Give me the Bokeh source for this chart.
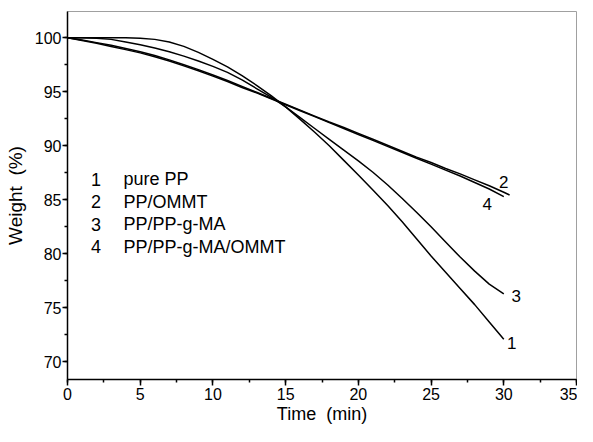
from bokeh.plotting import figure
from bokeh.models import SingleIntervalTicker, Range1d, ColumnDataSource
from bokeh.core.properties import value
from bokeh.embed import file_html
from bokeh.resources import INLINE

# ---- data ----
t_main = list(range(0, 31))

w_pure_pp = [100.0, 100.0, 100.0, 100.0, 100.0, 99.95, 99.85, 99.6, 99.2, 98.65,
             98.0, 97.3, 96.5, 95.6, 94.65, 93.6, 92.45, 91.25, 90.0, 88.65,
             87.3, 85.9, 84.5, 83.0, 81.4, 79.8, 78.3, 76.8, 75.3, 73.7, 72.1]

w_pp_ommt_t = list(range(0, 31)) + [30.4]
w_pp_ommt = [100.0, 99.8, 99.55, 99.3, 99.0, 98.7, 98.35, 97.95, 97.5, 97.05,
             96.55, 96.05, 95.5, 94.95, 94.4, 93.85, 93.3, 92.75, 92.2, 91.7,
             91.15, 90.6, 90.05, 89.5, 88.95, 88.45, 87.9, 87.4, 86.85, 86.3,
             85.7, 85.45]

w_pp_ppgma = [100.0, 100.0, 99.95, 99.85, 99.6, 99.35, 99.05, 98.7, 98.3, 97.85,
              97.35, 96.8, 96.1, 95.3, 94.5, 93.6, 92.6, 91.6, 90.6, 89.6,
              88.6, 87.55, 86.4, 85.15, 83.85, 82.5, 81.1, 79.7, 78.4, 77.2, 76.3]

w_pp_ppgma_ommt = [100.0, 99.75, 99.5, 99.2, 98.9, 98.6, 98.25, 97.85, 97.4, 96.95,
                   96.45, 95.95, 95.4, 94.9, 94.35, 93.8, 93.25, 92.7, 92.15, 91.6,
                   91.05, 90.5, 89.95, 89.4, 88.85, 88.3, 87.75, 87.2, 86.6, 86.0,
                   85.3]

legend_numbers = ["1", "2", "3", "4"]
legend_names = ["pure PP", "PP/OMMT", "PP/PP-g-MA", "PP/PP-g-MA/OMMT"]

x_label = "Time \u00a0(min)"
y_label = "Weight \u00a0(%)"

FONT = "Liberation Sans"

p = figure(width=577, height=426, output_backend="svg", toolbar_location=None,
           x_range=Range1d(0, 35), y_range=Range1d(68.37, 102.43),
           min_border_left=67, min_border_right=1, min_border_top=11,
           min_border_bottom=46)

p.background_fill_color = "white"
p.border_fill_color = "white"
p.outline_line_color = "#a0a0a0"
p.outline_line_width = 1
p.xgrid.visible = False
p.ygrid.visible = False

p.xaxis.ticker = SingleIntervalTicker(interval=5, num_minor_ticks=2)
p.yaxis.ticker = SingleIntervalTicker(interval=5, num_minor_ticks=2)

for ax in (p.xaxis, p.yaxis):
    ax.axis_line_color = "black"
    ax.axis_line_width = 1.5
    ax.major_tick_line_color = "black"
    ax.minor_tick_line_color = "black"
    ax.major_tick_line_width = 1.5
    ax.minor_tick_line_width = 1.5
    ax.major_tick_in = 0
    ax.minor_tick_in = 0
    ax.major_label_text_font = FONT
    ax.major_label_text_font_size = "16px"
    ax.major_label_text_color = "black"
    ax.axis_label_text_font = FONT
    ax.axis_label_text_font_style = "normal"
    ax.axis_label_text_color = "black"

p.xaxis.axis_label_text_font_size = "18px"
p.yaxis.axis_label_text_font_size = "19px"

p.xaxis.major_tick_out = 6
p.xaxis.minor_tick_out = 3
p.xaxis.major_label_standoff = 2
p.xaxis.axis_label_standoff = 1
p.yaxis.major_tick_out = 5
p.yaxis.minor_tick_out = 3
p.yaxis.major_label_standoff = 1
p.yaxis.axis_label_standoff = 6

p.xaxis.axis_label = x_label
p.yaxis.axis_label = y_label

series = [
    (t_main, w_pure_pp, "1", 8, 3.5),
    (w_pp_ommt_t, w_pp_ommt, "2", -6, -12.5),
    (t_main, w_pp_ppgma, "3", 12.5, 2.5),
    (t_main, w_pp_ppgma_ommt, "4", -16.5, 7),
]

for xs, ys, lab, dx, dy in series:
    p.line(xs, ys, line_color="black", line_width=1.5)
    p.text(x=[xs[-1]], y=[ys[-1]], text=[lab], x_offset=dx, y_offset=dy,
           text_align="center", text_baseline="middle",
           text_font=value(FONT), text_font_size="17px", text_color="black")

# legend block (numbers + names) in the upper-left area
leg_x_num = 1.96
leg_x_name = 3.85
leg_y0 = 86.92
leg_step = 2.095
leg_src = ColumnDataSource(dict(
    xn=[leg_x_num] * len(legend_numbers),
    xt=[leg_x_name] * len(legend_names),
    y=[leg_y0 - i * leg_step for i in range(len(legend_numbers))],
    num=legend_numbers,
    name=legend_names,
))
p.text(x="xn", y="y", text="num", source=leg_src, text_align="center",
       text_baseline="middle", text_font=value(FONT), text_font_size="18px",
       text_color="black")
p.text(x="xt", y="y", text="name", source=leg_src, text_align="left",
       text_baseline="middle", text_font=value(FONT), text_font_size="18px",
       text_color="black")

open("out.html", "w").write(file_html(p, INLINE))
